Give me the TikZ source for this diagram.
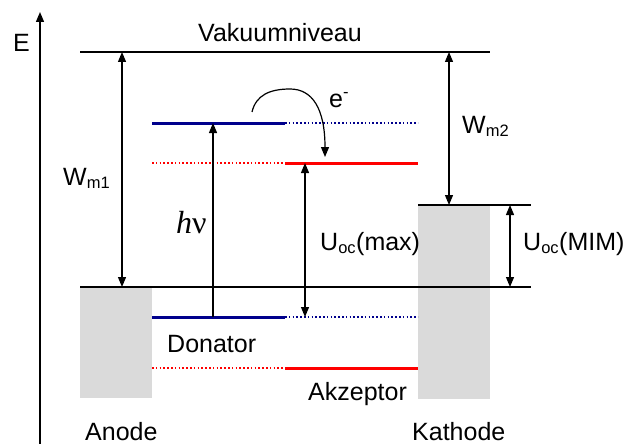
\documentclass[tikz,border=0pt]{standalone}
\usepackage{fontspec}
\setmainfont{Liberation Sans}
\newfontfamily\serifhv{Liberation Serif}
\usetikzlibrary{arrows.meta}
\definecolor{dblue}{RGB}{0,0,140}
\definecolor{lgray}{RGB}{218,218,218}
\tikzset{
  lvl/.style={line width=1.4pt, black},
  ax/.style={line width=1.4pt, black},
  tip/.style={-{Triangle[length=10pt,width=8pt]}},
  dtip/.style={{Triangle[length=10pt,width=8pt]}-{Triangle[length=10pt,width=8pt]}},
  sarrow/.style={line width=1.2pt, black},
  solidblue/.style={line width=3pt, dblue},
  dotblue/.style={line width=1.6pt, dblue, dash pattern=on 1.6pt off 2.2pt},
  solidred/.style={line width=3pt, red},
  dotred/.style={line width=1.6pt, red, dash pattern=on 1.6pt off 2.2pt},
  lbl/.style={font=\fontsize{25}{29}\selectfont, inner sep=0pt},
  box/.style={fill=lgray, inner sep=0pt, anchor=north west, minimum width=72pt}
}
\newcommand{\sbx}[1]{\textsubscript{\fontsize{16.5}{19}\selectfont #1}}
\begin{document}
\begin{tikzpicture}[x=1pt,y=-1pt]
\useasboundingbox (0,0) rectangle (624,444);
% boxes
\node[box, minimum height=111pt] (anodebox) at (80,287) {};
\node[box, minimum height=194pt] (kathbox) at (418,205) {};
% coordinates
\coordinate (vacL) at (80,52);
\coordinate (vacR) at (490,52);
\coordinate (fermL) at (80,287);
\coordinate (fermR) at (531,287);
\coordinate (cathL) at (418,205);
\coordinate (cathR) at (531,205);
\coordinate (axB) at (40,444);
\coordinate (axT) at (40,12);
\coordinate (dlL) at (152,123); \coordinate (dlM) at (285,123); \coordinate (dlR) at (418,123);
\coordinate (alL) at (152,163); \coordinate (alM) at (285,163); \coordinate (alR) at (418,163);
\coordinate (dhL) at (152,317); \coordinate (dhM) at (285,317); \coordinate (dhR) at (418,317);
\coordinate (ahL) at (152,368); \coordinate (ahM) at (285,368); \coordinate (ahR) at (418,368);
\coordinate (wm1T) at (122,52); \coordinate (wm1B) at (122,287);
\coordinate (hvB) at (213,317); \coordinate (hvT) at (213,123);
\coordinate (uoT) at (305,163); \coordinate (uoB) at (305,317);
\coordinate (wm2T) at (449,52); \coordinate (wm2B) at (449,205);
\coordinate (umT) at (510,205); \coordinate (umB) at (510,287);
\coordinate (eS) at (252,112); \coordinate (eP) at (290,89); \coordinate (eE) at (325,157);
% axis
\draw[ax, tip] (axB) -- (axT);
% level lines
\draw[lvl] (vacL) -- (vacR);
\draw[lvl] (fermL) -- (fermR);
\draw[lvl] (cathL) -- (cathR);
% molecular levels
\draw[solidblue] (dlL) -- (dlM);
\draw[dotblue] (dlM) -- (dlR);
\draw[dotred] (alL) -- (alM);
\draw[solidred] (alM) -- (alR);
\draw[solidblue] (dhL) -- (dhM);
\draw[dotblue] (dhM) -- (dhR);
\draw[dotred] (ahL) -- (ahM);
\draw[solidred] (ahM) -- (ahR);
% arrows
\draw[sarrow, dtip] (wm1T) -- (wm1B);
\draw[sarrow, tip] (hvB) -- (hvT);
\draw[sarrow, dtip] (uoT) -- (uoB);
\draw[sarrow, dtip] (wm2T) -- (wm2B);
\draw[sarrow, dtip] (umT) -- (umB);
\draw[sarrow, tip] (eS) .. controls (256,95) and (270,89) .. (eP) .. controls (312,89) and (325,108) .. (eE);
% labels
\node[lbl, anchor=base west] (E) at (13,52) {E};
\node[lbl, anchor=base] (vac) at (280,42) {Vakuumniveau};
\node[lbl, anchor=base west] (wm1) at (63,185) {W\sbx{m1}};
\node[lbl, anchor=base west] (wm2) at (462,133) {W\sbx{m2}};
\node[lbl, anchor=base west, font=\serifhv\fontsize{32}{36}\selectfont] (hv) at (176,233) {\itshape h\upshape ν};
\node[lbl, anchor=base west] (uomax) at (320,250) {U\sbx{oc}(max)};
\node[lbl, anchor=base west] (uomim) at (523,250) {U\sbx{oc}(MIM)};
\node[lbl, anchor=base west] (em) at (329,107) {e\textsuperscript{\fontsize{16.5}{19}\selectfont -}};
\node[lbl, anchor=base west] (don) at (167,352) {Donator};
\node[lbl, anchor=base west] (akz) at (308,400) {Akzeptor};
\node[lbl, anchor=base west] (ano) at (85,440) {Anode};
\node[lbl, anchor=base west] (kat) at (412,440) {Kathode};
\end{tikzpicture}
\end{document}
